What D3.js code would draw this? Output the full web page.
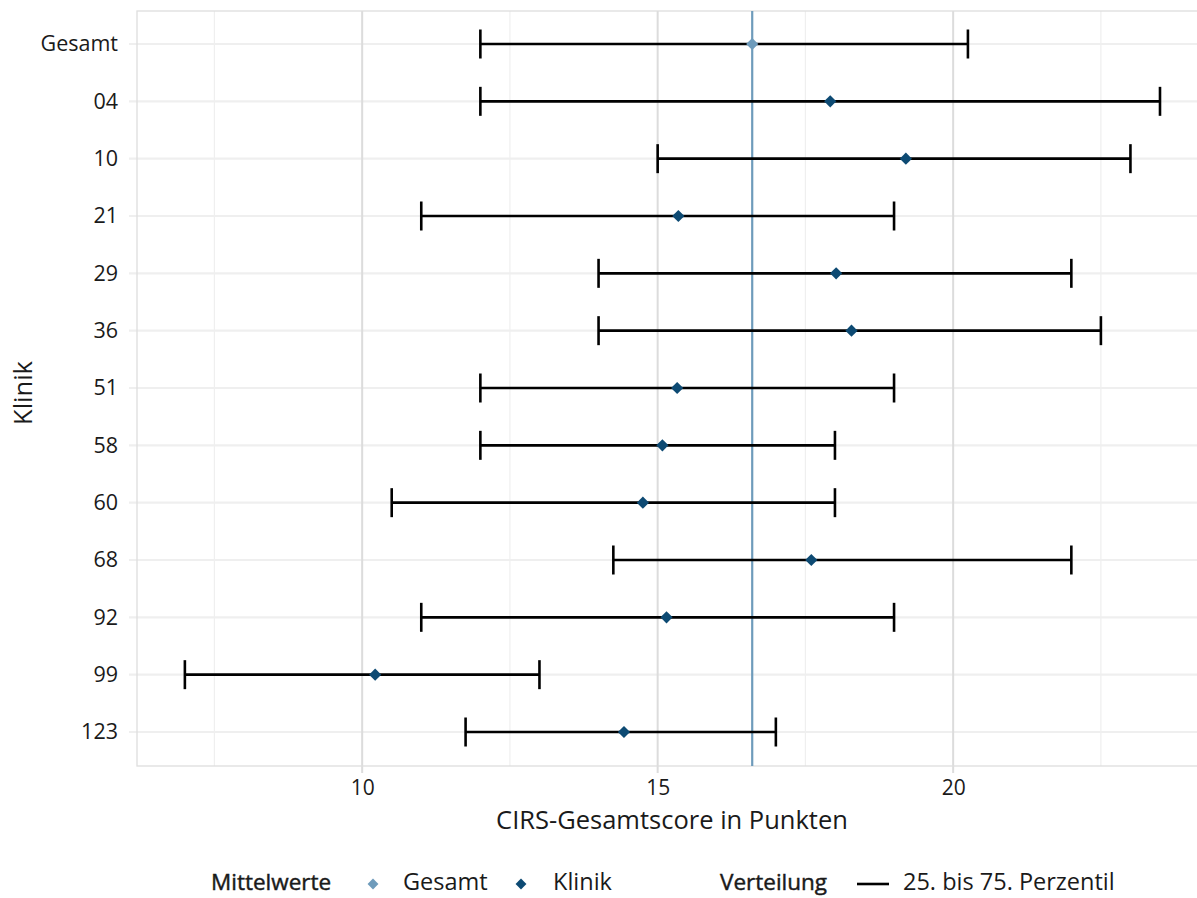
<!DOCTYPE html>
<html>
<head>
<meta charset="utf-8">
<script src="https://cdn.jsdelivr.net/npm/d3@7"></script>
<style>
  body { margin: 0; background: #fff; }
  svg { display: block; font-family: "Open Sans", "Noto Sans", sans-serif; }
</style>
</head>
<body>
<svg id="chart" width="1197" height="898"></svg>
<script>
// Kliniken (top to bottom), 25th/75th percentiles and means of the CIRS total score
const kliniken = ["Gesamt", "04", "10", "21", "29", "36", "51", "58", "60", "68", "92", "99", "123"];
const p25      = [12, 12, 15, 11, 14, 14, 12, 12, 10.5, 14.25, 11, 7, 11.75];
const p75      = [20.25, 23.5, 23, 19, 22, 22.5, 19, 18, 18, 22, 19, 13, 17];
const mittel   = [16.6, 17.92, 19.2, 15.35, 18.02, 18.28, 15.33, 15.08, 14.75, 17.6, 15.15, 10.22, 14.43];
const xTicks   = [10, 15, 20];
const xMinor   = [7.5, 12.5, 17.5, 22.5];

const colGesamt = "#6e9bbb";
const colKlinik = "#0d4a73";
const fontFam = '"Open Sans", "Noto Sans", sans-serif';

const svg = d3.select("#chart");
const panel = { left: 137, right: 1212, top: 11, bottom: 766 };

const x = d3.scaleLinear().domain([6.19, 24.38]).range([panel.left, panel.right]);
const y = d3.scalePoint().domain(kliniken).range([44, 732]);

const rows = kliniken.map((k, i) => ({ k, lo: p25[i], hi: p75[i], m: mittel[i] }));

// grid
const g = svg.append("g");
g.selectAll("line.minor").data(xMinor).join("line")
  .attr("x1", d => x(d)).attr("x2", d => x(d))
  .attr("y1", panel.top).attr("y2", panel.bottom)
  .attr("stroke", "#efefef").attr("stroke-width", 1.2);
g.selectAll("line.hgrid").data(kliniken).join("line")
  .attr("x1", panel.left - 8).attr("x2", panel.right)
  .attr("y1", d => y(d)).attr("y2", d => y(d))
  .attr("stroke", "#efefef").attr("stroke-width", 2.2);
g.selectAll("line.major").data(xTicks).join("line")
  .attr("x1", d => x(d)).attr("x2", d => x(d))
  .attr("y1", panel.top).attr("y2", panel.bottom + 7)
  .attr("stroke", "#dcdcdc").attr("stroke-width", 2);

// panel border
svg.append("rect")
  .attr("x", panel.left).attr("y", panel.top)
  .attr("width", panel.right - panel.left).attr("height", panel.bottom - panel.top)
  .attr("fill", "none").attr("stroke", "#dedede").attr("stroke-width", 1.3);

// axes
const xAxis = svg.append("g")
  .attr("transform", `translate(0,${panel.bottom})`)
  .call(d3.axisBottom(x).tickValues(xTicks).tickSize(0).tickPadding(14))
  .attr("font-family", fontFam).attr("font-size", 21);
xAxis.select(".domain").remove();
xAxis.selectAll("text").attr("fill", "#1a1a1a");

const yAxis = svg.append("g")
  .attr("transform", `translate(${panel.left},0)`)
  .call(d3.axisLeft(y).tickSize(0).tickPadding(19))
  .attr("font-family", fontFam).attr("font-size", 21.5);
yAxis.select(".domain").remove();
yAxis.selectAll("text").attr("fill", "#1a1a1a");

// axis titles
svg.append("text")
  .attr("x", 672).attr("y", 829).attr("text-anchor", "middle")
  .attr("font-size", 25.5).attr("fill", "#1a1a1a")
  .text("CIRS-Gesamtscore in Punkten");
svg.append("text")
  .attr("transform", "translate(32,393) rotate(-90)").attr("text-anchor", "middle")
  .attr("font-size", 25.5).attr("fill", "#1a1a1a")
  .text("Klinik");

// overall mean reference line
svg.append("line")
  .attr("x1", x(mittel[0])).attr("x2", x(mittel[0]))
  .attr("y1", panel.top).attr("y2", panel.bottom)
  .attr("stroke", colGesamt).attr("stroke-width", 2.2);

// percentile ranges with caps
const cap = 14.5;
const eb = svg.append("g").attr("stroke", "#000").attr("stroke-width", 2.6);
eb.selectAll("line.range").data(rows).join("line")
  .attr("x1", d => x(d.lo)).attr("x2", d => x(d.hi))
  .attr("y1", d => y(d.k)).attr("y2", d => y(d.k));
eb.selectAll("line.capLo").data(rows).join("line")
  .attr("x1", d => x(d.lo)).attr("x2", d => x(d.lo))
  .attr("y1", d => y(d.k) - cap).attr("y2", d => y(d.k) + cap);
eb.selectAll("line.capHi").data(rows).join("line")
  .attr("x1", d => x(d.hi)).attr("x2", d => x(d.hi))
  .attr("y1", d => y(d.k) - cap).attr("y2", d => y(d.k) + cap);

// means
const diamond = d3.symbol().type(d3.symbolDiamond2).size(95);
svg.selectAll("path.mean").data(rows).join("path")
  .attr("transform", d => `translate(${x(d.m)},${y(d.k)})`)
  .attr("d", diamond)
  .attr("fill", d => d.k === "Gesamt" ? colGesamt : colKlinik);

// legend
const lg = svg.append("g").attr("font-size", 23.5).attr("fill", "#1a1a1a");
const ly = 882;
// legend titles in a medium weight (regular glyphs with a hairline outline)
lg.append("text").attr("x", 211).attr("y", ly).attr("dy", "0.35em").attr("font-size", 22.5)
  .attr("stroke", "#1a1a1a").attr("stroke-width", 0.45).text("Mittelwerte");
lg.append("path").attr("transform", `translate(373,${ly + 2})`).attr("d", d3.symbol().type(d3.symbolDiamond2).size(75)).attr("fill", colGesamt);
lg.append("text").attr("x", 403).attr("y", ly).attr("dy", "0.35em").text("Gesamt");
lg.append("path").attr("transform", `translate(521,${ly + 2})`).attr("d", d3.symbol().type(d3.symbolDiamond2).size(75)).attr("fill", colKlinik);
lg.append("text").attr("x", 553).attr("y", ly).attr("dy", "0.35em").text("Klinik");
lg.append("text").attr("x", 720).attr("y", ly).attr("dy", "0.35em").attr("font-size", 22.5)
  .attr("stroke", "#1a1a1a").attr("stroke-width", 0.45).text("Verteilung");
lg.append("line").attr("x1", 857).attr("x2", 889).attr("y1", ly + 2).attr("y2", ly + 2).attr("stroke", "#000").attr("stroke-width", 2.6);
lg.append("text").attr("x", 903).attr("y", ly).attr("dy", "0.35em").text("25. bis 75. Perzentil");
</script>
</body>
</html>
